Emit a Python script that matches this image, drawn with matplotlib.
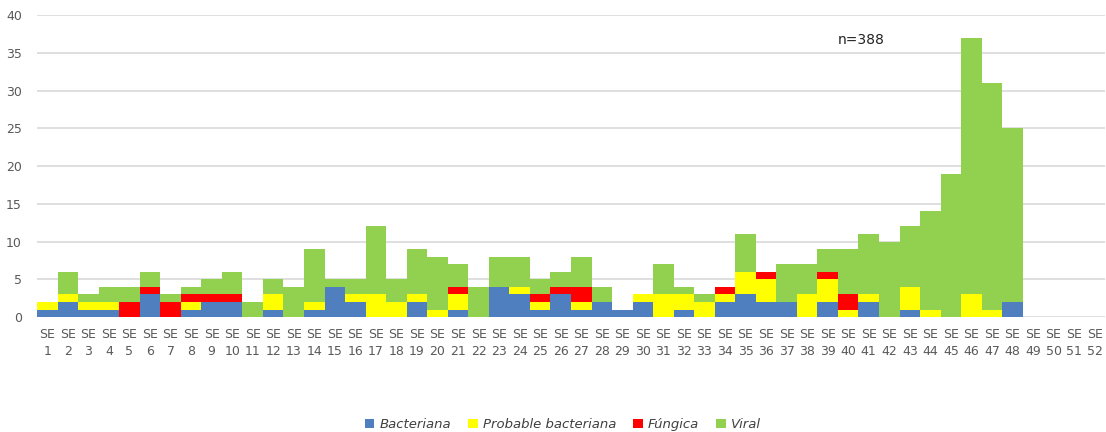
import numpy as np
import matplotlib.pyplot as plt

# casos por semana epidemiologica, SE 1 a SE 52
semanas = ["SE\n%d" % i for i in range(1, 53)]
bacteriana = [1, 2, 1, 1, 0, 3, 0, 1, 2, 2, 0, 1, 0, 1, 4, 2, 0, 0, 2, 0,
              1, 0, 4, 3, 1, 3, 1, 2, 1, 2, 0, 1, 0, 2, 3, 2, 2, 0, 2, 0,
              2, 0, 1, 0, 0, 0, 0, 2, 0, 0, 0, 0]
probable = [1, 1, 1, 1, 0, 0, 0, 1, 0, 0, 0, 2, 0, 1, 0, 1, 3, 2, 1, 1,
            2, 0, 0, 1, 1, 0, 1, 0, 0, 1, 3, 2, 2, 1, 3, 3, 0, 3, 3, 1,
            1, 0, 3, 1, 0, 3, 1, 0, 0, 0, 0, 0]
fungica = [0, 0, 0, 0, 2, 1, 2, 1, 1, 1, 0, 0, 0, 0, 0, 0, 0, 0, 0, 0,
           1, 0, 0, 0, 1, 1, 2, 0, 0, 0, 0, 0, 0, 1, 0, 1, 0, 0, 1, 2,
           0, 0, 0, 0, 0, 0, 0, 0, 0, 0, 0, 0]
viral = [0, 3, 1, 2, 2, 2, 1, 1, 2, 3, 2, 2, 4, 7, 1, 2, 9, 3, 6, 7,
         3, 4, 4, 4, 2, 2, 4, 2, 0, 0, 4, 1, 1, 0, 5, 0, 5, 4, 3, 6,
         8, 10, 8, 13, 19, 34, 30, 23, 0, 0, 0, 0]

series = [("Bacteriana", bacteriana, "#4f7fbe"),
          ("Probable bacteriana", probable, "#ffff00"),
          ("Fúngica", fungica, "#ff0000"),
          ("Viral", viral, "#92d050")]

fig = plt.figure(figsize=(11.06, 4.32), dpi=100)
ax = fig.add_axes([0.0335, 0.266, 0.9655, 0.699])

x = np.arange(len(semanas))
base = np.zeros(len(semanas))
for nombre, vals, color in series:
    vals = np.array(vals)
    ax.bar(x, vals, width=1.0, bottom=base, color=color, label=nombre,
           edgecolor="none", zorder=3)
    base += vals

ax.set_xlim(-0.5, len(semanas) - 0.5)
ax.set_ylim(0, 40)
ax.set_yticks(range(0, 41, 5))
ax.set_xticks(x)
ax.set_xticklabels(semanas, linespacing=1.35)
ax.tick_params(axis="both", length=0, labelsize=9, colors="#595959")
ax.tick_params(axis="x", pad=8)
ax.tick_params(axis="y", pad=11)
ax.grid(axis="y", color="#d9d9d9", linewidth=1.2, zorder=0)
for s in ax.spines.values():
    s.set_visible(False)

ax.text(38.5, 36.7, "n=388", fontsize=10, color="#222222", va="center")

fig.legend(loc="lower center", ncol=4, frameon=False, prop={"style": "italic", "size": 9.5},
           handlelength=0.7, handleheight=0.7, handletextpad=0.4, columnspacing=1.3,
           bbox_to_anchor=(0.509, -0.025), labelcolor="#404040")

fig.savefig("out.png", dpi=100)
